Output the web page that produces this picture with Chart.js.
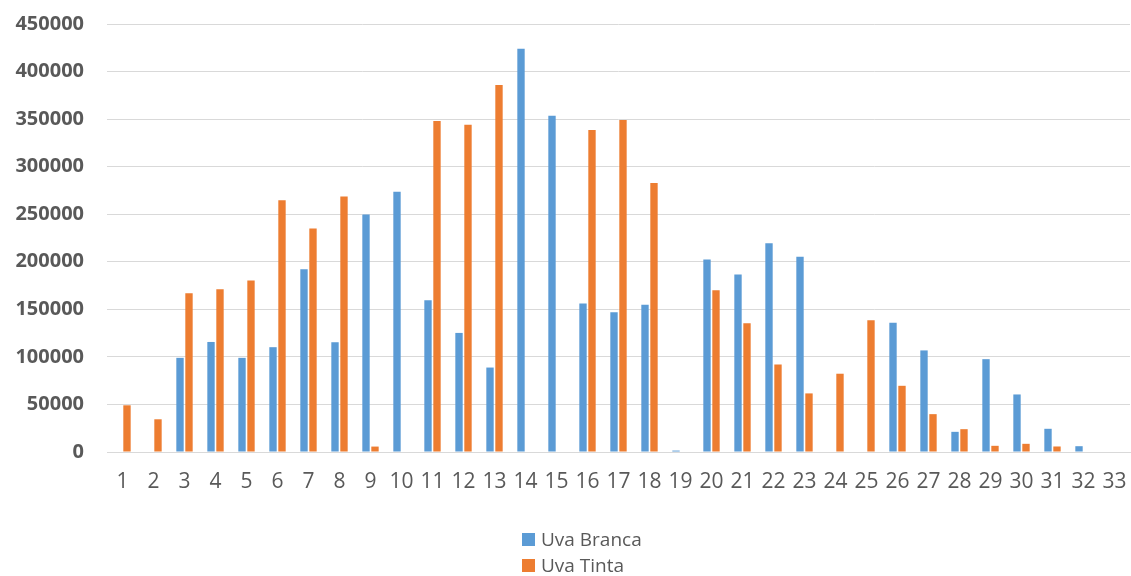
<!DOCTYPE html>
<html>
<head>
<meta charset="utf-8">
<script src="https://cdn.jsdelivr.net/npm/chart.js@4/dist/chart.umd.min.js"></script>
<style>
  html, body { margin: 0; padding: 0; background: #ffffff; }
  #wrap { position: relative; width: 1131px; height: 576px; }
  #chart { position: absolute; left: 0; top: 0; }
  #legend { position: absolute; left: 522px; top: 526px; font-family: "Open Sans", sans-serif; font-size: 19px; color: #595959; }
  .row { display: flex; align-items: center; height: 26px; }
  .sw { width: 13px; height: 13px; margin-right: 6px; }
</style>
</head>
<body>
<div id="wrap">
  <canvas id="chart" width="1131" height="576"></canvas>
  <div id="legend"></div>
</div>
<script>
// Categories 1..33
const categories = ['1','2','3','4','5','6','7','8','9','10','11','12','13','14','15','16','17','18','19','20','21','22','23','24','25','26','27','28','29','30','31','32','33'];

const uvaBranca = [0, 0, 99000, 115700, 99000, 110200, 192200, 115400, 249800, 273600,
  159600, 125200, 88800, 424000, 353500, 156100, 147000, 154700, 1500, 202400,
  186600, 219400, 205400, 0, 0, 135900, 106800, 21200, 97600, 60500,
  24400, 6100, 0];

const uvaTinta = [49100, 34400, 167000, 171200, 180300, 264800, 235000, 268700, 5700, 0,
  348000, 344100, 385800, 0, 0, 338500, 349000, 282700, 0, 170100,
  135400, 92000, 61600, 82300, 138400, 69600, 39800, 24000, 6500, 8600,
  5800, 0, 0];

const seriesNames = ['Uva Branca', 'Uva Tinta'];
const seriesColors = ['#5B9BD5', '#ED7D31'];

const yTicks = [0, 50000, 100000, 150000, 200000, 250000, 300000, 350000, 400000, 450000];

const textColor = '#595959';
const gridColor = '#D9D9D9';

new Chart(document.getElementById('chart'), {
  type: 'bar',
  data: {
    labels: categories,
    datasets: [
      { label: seriesNames[0], data: uvaBranca, backgroundColor: seriesColors[0], borderWidth: 0,
        categoryPercentage: 0.58, barPercentage: 0.82 },
      { label: seriesNames[1], data: uvaTinta, backgroundColor: seriesColors[1], borderWidth: 0,
        categoryPercentage: 0.58, barPercentage: 0.82 }
    ]
  },
  options: {
    responsive: false,
    animation: false,
    layout: { padding: { left: 0, right: 1, top: 24, bottom: 79 } },
    plugins: {
      legend: { display: false },
      tooltip: { enabled: false }
    },
    scales: {
      x: {
        grid: { display: false, drawTicks: false },
        border: { display: true, color: gridColor, width: 1 },
        ticks: { color: textColor, font: { family: 'Open Sans', size: 21 }, padding: 17, maxRotation: 0, autoSkip: false },
        // fixed axis band; no extra room for edge labels
        afterFit: (s) => { s.height = 45; s.paddingLeft = 0; s.paddingRight = 0; }
      },
      y: {
        min: 0,
        max: 450000,
        afterBuildTicks: (s) => { s.ticks = yTicks.map(v => ({ value: v })); },
        grid: { color: gridColor, lineWidth: 1, drawTicks: false },
        border: { display: false },
        ticks: { color: textColor, font: { family: 'Open Sans', size: 20, weight: 'bold' }, padding: 23,
          callback: (v) => String(v) },
        afterFit: (s) => { s.width = 107; s.paddingTop = 0; s.paddingBottom = 0; }
      }
    }
  }
});

// Legend, stacked in two rows
const legend = document.getElementById('legend');
seriesNames.forEach((name, i) => {
  const row = document.createElement('div');
  row.className = 'row';
  const sw = document.createElement('span');
  sw.className = 'sw';
  sw.style.background = seriesColors[i];
  const label = document.createElement('span');
  label.textContent = name;
  row.appendChild(sw);
  row.appendChild(label);
  legend.appendChild(row);
});
</script>
</body>
</html>
